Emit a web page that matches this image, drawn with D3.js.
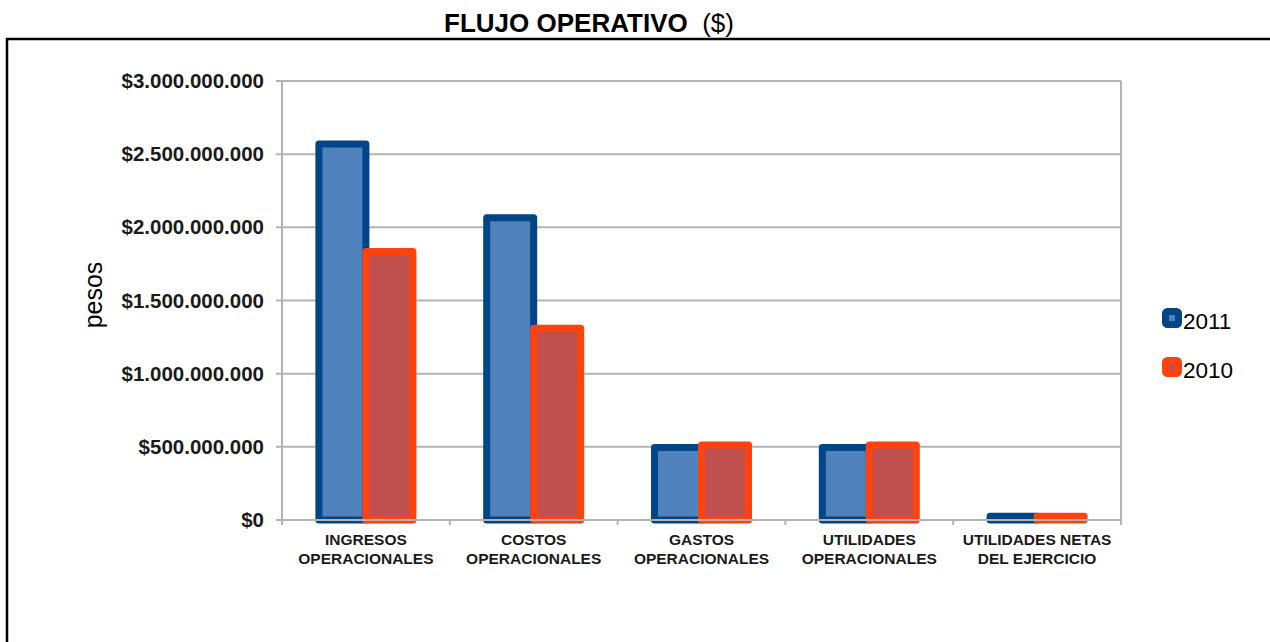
<!DOCTYPE html>
<html>
<head>
<meta charset="utf-8">
<script src="https://cdn.jsdelivr.net/npm/d3@7"></script>
<style>
  body { margin: 0; background: #fff; }
  svg { display: block; font-family: "Liberation Sans", Arial, sans-serif; }
</style>
</head>
<body>
<div id="chart"></div>
<script>
"use strict";

// data
var categories = [
  ["INGRESOS", "OPERACIONALES"],
  ["COSTOS", "OPERACIONALES"],
  ["GASTOS", "OPERACIONALES"],
  ["UTILIDADES", "OPERACIONALES"],
  ["UTILIDADES NETAS", "DEL EJERCICIO"]
];
var seriesNames = ["2011", "2010"];
var values2011 = [2570000000, 2065000000, 495000000, 495000000, 26000000];
var values2010 = [1835000000, 1310000000, 513000000, 513000000, 25000000];
var yTicks = [0, 500000000, 1000000000, 1500000000, 2000000000, 2500000000, 3000000000];

// params
var width = 1270, height = 642;
var fillColors = {"2011": "#4F81BD", "2010": "#C0504D"};
var strokeColors = {"2011": "#004586", "2010": "#FF420E"};
var gridColor = "#b3b3b3";

var plot = {left: 282, right: 1121, top: 81, bottom: 520};

var svg = d3.select("#chart")
  .append("svg")
  .attr("width", width)
  .attr("height", height);

// outer frame (top and left edge)
svg.append("path")
  .attr("d", "M7,642 L7,39 L1270,39")
  .attr("fill", "none")
  .attr("stroke", "#000")
  .attr("stroke-width", 2.5);

// title
var title = svg.append("text")
  .attr("x", 589)
  .attr("y", 32)
  .attr("text-anchor", "middle")
  .attr("font-size", 26)
  .attr("fill", "#000");
title.append("tspan").attr("font-weight", "bold").text("FLUJO OPERATIVO");
title.append("tspan").attr("font-weight", "normal").attr("xml:space", "preserve").text("  ($)");

// scales
var x0 = d3.scaleBand()
  .domain(d3.range(categories.length))
  .range([plot.left, plot.right])
  .padding(0);

var groupWidth = 94;
var x1 = d3.scaleBand()
  .domain(seriesNames)
  .range([0, groupWidth]);

var y = d3.scaleLinear()
  .domain([0, 3000000000])
  .range([plot.bottom, plot.top]);

var locale = d3.formatLocale({decimal: ",", thousands: ".", grouping: [3], currency: ["$", ""]});
var fmt = locale.format("$,.0f");

// gridlines
svg.append("g")
  .selectAll("line")
  .data(yTicks.slice(1))
  .enter()
  .append("line")
    .attr("x1", plot.left - 6)
    .attr("x2", plot.right)
    .attr("y1", function(d) { return y(d); })
    .attr("y2", function(d) { return y(d); })
    .attr("stroke", gridColor)
    .attr("stroke-width", 2);

// right border of plot area
svg.append("line")
  .attr("x1", plot.right).attr("x2", plot.right)
  .attr("y1", plot.top).attr("y2", plot.bottom + 5)
  .attr("stroke", gridColor)
  .attr("stroke-width", 2);

// y tick labels
svg.append("g")
  .selectAll("text")
  .data(yTicks)
  .enter()
  .append("text")
    .attr("x", 264)
    .attr("y", function(d) { return y(d) + 7; })
    .attr("text-anchor", "end")
    .attr("font-size", 20.5)
    .attr("font-weight", "bold")
    .attr("fill", "#1a1a1a")
    .text(function(d) { return fmt(d); });

// y axis title
svg.append("text")
  .attr("transform", "translate(102,295) rotate(-90)")
  .attr("text-anchor", "middle")
  .attr("font-size", 25)
  .attr("fill", "#000")
  .text("pesos");

// bars
var rows = categories.map(function(c, i) {
  return {index: i, values: [
    {name: "2011", value: values2011[i]},
    {name: "2010", value: values2010[i]}
  ]};
});

var groups = svg.append("g")
  .selectAll("g")
  .data(rows)
  .enter()
  .append("g")
    .attr("transform", function(d) {
      return "translate(" + (x0(d.index) + (x0.bandwidth() - groupWidth) / 2) + ",0)";
    });

groups.selectAll("rect")
  .data(function(d) { return d.values; })
  .enter()
  .append("rect")
    .attr("x", function(d) { return x1(d.name); })
    .attr("y", function(d) { return y(d.value); })
    .attr("width", x1.bandwidth())
    .attr("height", function(d) { return plot.bottom - y(d.value); })
    .attr("fill", function(d) { return fillColors[d.name]; })
    .attr("stroke", function(d) { return strokeColors[d.name]; })
    .attr("stroke-width", 7)
    .attr("stroke-linejoin", "round");

// left axis line
svg.append("line")
  .attr("x1", plot.left).attr("x2", plot.left)
  .attr("y1", plot.top).attr("y2", plot.bottom + 5)
  .attr("stroke", gridColor)
  .attr("stroke-width", 2);

// bottom axis line
svg.append("line")
  .attr("x1", plot.left - 6).attr("x2", plot.right)
  .attr("y1", plot.bottom).attr("y2", plot.bottom)
  .attr("stroke", gridColor)
  .attr("stroke-width", 2);

// category ticks
svg.append("g")
  .selectAll("line")
  .data(d3.range(1, categories.length))
  .enter()
  .append("line")
    .attr("x1", function(i) { return x0(i); })
    .attr("x2", function(i) { return x0(i); })
    .attr("y1", plot.bottom)
    .attr("y2", plot.bottom + 5)
    .attr("stroke", gridColor)
    .attr("stroke-width", 2);

// category labels
var labels = svg.append("g")
  .selectAll("text")
  .data(categories)
  .enter()
  .append("text")
    .attr("text-anchor", "middle")
    .attr("font-size", 15.5)
    .attr("font-weight", "bold")
    .attr("fill", "#1a1a1a");

labels.selectAll("tspan")
  .data(function(d, i) { return d.map(function(t) { return {text: t, index: i}; }); })
  .enter()
  .append("tspan")
    .attr("x", function(d) { return x0(d.index) + x0.bandwidth() / 2; })
    .attr("y", function(d, j) { return 545 + j * 18.5; })
    .text(function(d) { return d.text; });

// legend
var legend = svg.append("g")
  .selectAll("g")
  .data(seriesNames)
  .enter()
  .append("g")
    .attr("transform", function(d, i) { return "translate(1162," + (308 + i * 49) + ")"; });

legend.append("rect")
  .attr("x", 3.5).attr("y", 3.5)
  .attr("width", 13).attr("height", 13)
  .attr("rx", 2)
  .attr("fill", function(d) { return fillColors[d]; })
  .attr("stroke", function(d) { return strokeColors[d]; })
  .attr("stroke-width", 7)
  .attr("stroke-linejoin", "round");

legend.append("rect")
  .attr("x", 8.5).attr("y", 8.5)
  .attr("width", 3).attr("height", 3)
  .attr("fill", function(d) { return fillColors[d]; });

legend.append("text")
  .attr("x", 21)
  .attr("y", 21)
  .attr("font-size", 22.5)
  .attr("fill", "#000")
  .text(function(d) { return d; });
</script>
</body>
</html>
